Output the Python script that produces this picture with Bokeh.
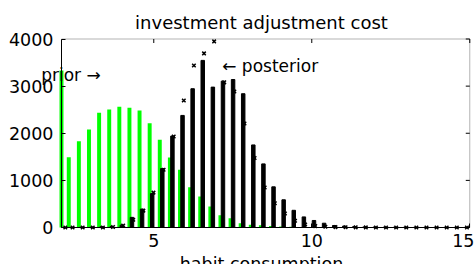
from bokeh.plotting import figure
from bokeh.models import Range1d, FixedTicker, Label, ColumnDataSource, BoxAnnotation
from bokeh.transform import dodge
from bokeh.embed import file_html
from bokeh.resources import INLINE

# ---- data ----
bin_centers = [2.12, 2.35, 2.67, 2.99, 3.31, 3.63, 3.95, 4.27, 4.59, 4.91,
               5.23, 5.55, 5.87, 6.19, 6.51, 6.83, 7.15, 7.47, 7.79, 8.11,
               8.43, 8.75, 9.07, 9.39, 9.71, 10.03, 10.35, 10.67, 10.99, 11.31,
               11.63, 11.95, 12.27, 12.59, 12.91, 13.23, 13.55, 13.87, 14.19, 14.51,
               14.83]
prior_counts = [3330, 1490, 1830, 2080, 2435, 2505, 2560, 2540, 2484, 2214,
                1862, 1486, 1225, 853, 660, 446, 258, 195, 91, 60,
                50, 30, 20, 15, 12, 10, 8, 7, 6, 5,
                4, 4, 3, 3, 2, 2, 2, 1, 1, 1,
                1]
posterior_counts = [0, 0, 5, 5, 15, 20, 50, 215, 390, 720,
                    1250, 1940, 2378, 2945, 3546, 2979, 3106, 3140, 2839, 1752,
                    1350, 863, 588, 365, 225, 149, 91, 42, 30, 20,
                    12, 8, 5, 4, 3, 2, 1, 1, 1, 0,
                    0]
posterior_marks = [0, 0, 0, 0, 0, 10, 40, 163, 358, 740,
                   1225, 1932, 2696, 3439, 3694, 3949, 3080, 2887, 2208, 1476,
                   849, 516, 297, 142, 64, 30, 15, 8, 5, 3,
                   2, 1, 1, 0, 0, 0, 0, 0, 0, 0,
                   0]
x_ticks = [5, 10, 15]
y_ticks = [0, 1000, 2000, 3000, 4000]
title_text = "investment adjustment cost"
x_label_text = "habit consumption"

# axes box (data limits) and the canvas mapping
XL, XR, YB, YT = 2.08, 15, 0, 4000
W, H = 474, 264
PX_X = 31.6                 # pixels per x unit
PX_Y = 188.5 / 4000         # pixels per y unit
BOX_LEFT, BOX_BOTTOM = 61, 227
xs = XL - BOX_LEFT / PX_X
xe = xs + W / PX_X
ys = YB - (H - BOX_BOTTOM) / PX_Y
ye = ys + H / PX_Y


def xd(px):
    return xs + px / PX_X


def yd(py):
    return ys + (H - py) / PX_Y


src = ColumnDataSource(dict(x=bin_centers, prior=prior_counts,
                            post=posterior_counts, marks=posterior_marks))

FONT = "DejaVu Sans"

p = figure(width=W, height=H, x_range=Range1d(xs, xe), y_range=Range1d(ys, ye),
           output_backend="svg", toolbar_location=None,
           min_border_left=0, min_border_right=0, min_border_top=0, min_border_bottom=0,
           background_fill_color="white", border_fill_color="white")
p.xgrid.visible = False
p.ygrid.visible = False
p.outline_line_color = None

p.vbar(x=dodge("x", -0.04, range=p.x_range), top="prior", width=0.125, source=src,
       fill_color="#00ff00", line_color=None)
p.vbar(x=dodge("x", 0.04, range=p.x_range), top="post", width=0.11, source=src,
       fill_color="black", line_color="black", line_width=1)
p.scatter(x=dodge("x", 0.08, range=p.x_range), y="marks", source=src, marker="x",
          size=5, line_color="black", line_width=1.5)

xax = p.xaxis[0]
yax = p.yaxis[0]
xax.fixed_location = YB
xax.bounds = (XL, XR)
yax.fixed_location = XL
yax.bounds = (YB, YT)
for ax, tks in ((xax, x_ticks), (yax, y_ticks)):
    ax.ticker = FixedTicker(ticks=tks)
    ax.major_tick_in = 4
    ax.major_tick_out = 0
    ax.minor_tick_in = 0
    ax.minor_tick_out = 0
    ax.axis_line_color = "black"
    ax.major_tick_line_color = "black"
    ax.major_label_text_font = FONT
    ax.major_label_text_font_size = "17.5px"
    ax.major_label_text_color = "black"
xax.major_label_standoff = 6
yax.major_label_standoff = 8

# the closed MATLAB-style box with inward ticks on top and right
p.add_layout(BoxAnnotation(left=XL, right=XR, bottom=YB, top=YT, fill_color=None,
                           line_color="black", line_width=1))
dx = 4 / PX_X
dy = 4 / PX_Y
p.segment(x0=[XR - dx] * len(y_ticks), x1=[XR] * len(y_ticks), y0=y_ticks, y1=y_ticks,
          line_color="black", line_width=1)
p.segment(x0=x_ticks, x1=x_ticks, y0=[YT - dy] * len(x_ticks), y1=[YT] * len(x_ticks),
          line_color="black", line_width=1)

p.add_layout(Label(x=xd(261), y=yd(21.7), text=title_text, text_font=FONT,
                   text_font_size="18px", text_align="center", text_baseline="alphabetic",
                   text_color="black"))
p.add_layout(Label(x=xd(40.7), y=yd(74), text="prior  \u2192", text_font=FONT,
                   text_font_size="17px", text_baseline="alphabetic", text_color="black"))
p.add_layout(Label(x=xd(221.7), y=yd(65.7), text="\u2190  posterior", text_font=FONT,
                   text_font_size="17px", text_baseline="alphabetic", text_color="black"))
p.add_layout(Label(x=xd(261), y=yd(253), text=x_label_text, text_font=FONT,
                   text_font_size="17.5px", text_align="center", text_baseline="top",
                   text_color="black"))

open("out.html", "w").write(file_html(p, INLINE))
